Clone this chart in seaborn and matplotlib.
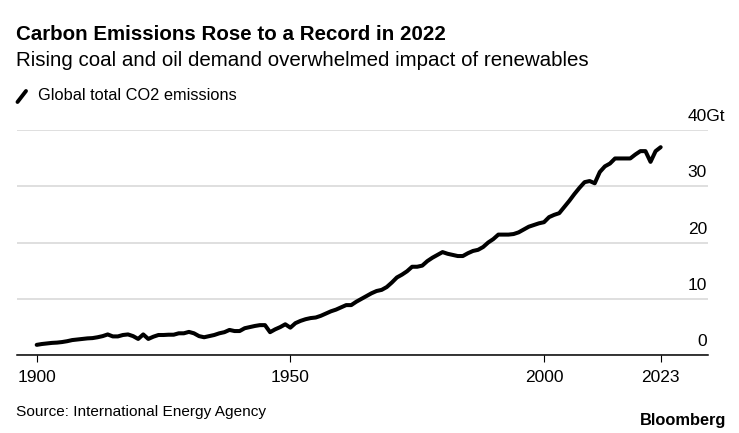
import numpy as np
import pandas as pd
import matplotlib
matplotlib.use("Agg")
import matplotlib.pyplot as plt
import matplotlib.transforms as mtransforms
from matplotlib.lines import Line2D
import seaborn as sns

# ---- data ----
years = list(range(1900, 2024))
emissions = [
    1.85, 2.0, 2.1, 2.2, 2.25, 2.35, 2.5, 2.7, 2.8, 2.9,      # 1900-1909
    3.0, 3.05, 3.2, 3.4, 3.7, 3.35, 3.35, 3.6, 3.7, 3.4,      # 1910-1919
    2.9, 3.7, 2.9, 3.3, 3.6, 3.6, 3.65, 3.65, 3.9, 3.9,       # 1920-1929
    4.15, 3.9, 3.4, 3.2, 3.4, 3.6, 3.9, 4.1, 4.5, 4.3,        # 1930-1939
    4.3, 4.8, 5.0, 5.2, 5.35, 5.35, 4.1, 4.6, 5.0, 5.5,       # 1940-1949
    4.9, 5.7, 6.1, 6.4, 6.6, 6.7, 7.0, 7.4, 7.8, 8.1,         # 1950-1959
    8.5, 8.9, 8.9, 9.5, 10.0, 10.5, 11.0, 11.4, 11.6, 12.1,   # 1960-1969
    12.9, 13.8, 14.3, 14.9, 15.7, 15.7, 15.9, 16.7, 17.3, 17.8,  # 1970-1979
    18.3, 18.0, 17.8, 17.6, 17.6, 18.1, 18.5, 18.7, 19.2, 20.0,  # 1980-1989
    20.6, 21.4, 21.4, 21.4, 21.5, 21.8, 22.3, 22.8, 23.1, 23.4,  # 1990-1999
    23.6, 24.5, 24.9, 25.2, 26.3, 27.4, 28.6, 29.7, 30.7, 30.9,  # 2000-2009
    30.5, 32.5, 33.5, 34.0, 34.9, 34.9, 34.9, 34.9, 35.6, 36.2,  # 2010-2019
    36.2, 34.3, 36.2, 36.9,                                      # 2020-2023
]
x_ticks = [1900, 1950, 2000, 2023]
x_tick_labels = ["1900", "1950", "2000", "2023"]
y_ticks = [0, 10, 20, 30, 40]
y_tick_labels = ["0", "10", "20", "30", "40"]
y_unit = "Gt"

title = "Carbon Emissions Rose to a Record in 2022"
subtitle = "Rising coal and oil demand overwhelmed impact of renewables"
legend_label = "Global total CO2 emissions"
source = "Source: International Energy Agency"
brand = "Bloomberg"

df = pd.DataFrame({"year": years, "emissions": emissions})

# ---- style ----
sns.set_theme(style="white")
plt.rcParams["font.family"] = ["Liberation Sans", "DejaVu Sans"]

W, H = 739, 433
fig = plt.figure(figsize=(W / 100, H / 100), dpi=100)
fig.patch.set_facecolor("white")

ax_left, ax_right = 17, 708
ax_top, ax_bottom = 129.7, 355.3
ax = fig.add_axes([ax_left / W, 1 - ax_bottom / H,
                   (ax_right - ax_left) / W, (ax_bottom - ax_top) / H])

sns.lineplot(data=df, x="year", y="emissions", color="black",
             linewidth=2.9, ax=ax, legend=False)
ax.lines[0].set_solid_joinstyle("round")
ax.lines[0].set_solid_capstyle("round")
ax.lines[0].set_clip_on(False)

# axis limits: 1900 sits at px 36.7, 5.073 px / year
ppy = 5.073
ax.set_xlim(1900 - (36.7 - ax_left) / ppy, 1900 + (ax_right - 36.7) / ppy)
ax.set_ylim(0, 40)

for s in ["top", "right", "left"]:
    ax.spines[s].set_visible(False)
ax.spines["bottom"].set_color("black")
ax.spines["bottom"].set_linewidth(1.1)
ax.spines["bottom"].set_zorder(5)

ax.set_yticks(y_ticks)
ax.set_yticklabels([])
ax.tick_params(axis="y", length=0)
ax.yaxis.grid(True, color="#dcdcdc", linewidth=1.3)
ax.xaxis.grid(False)
ax.set_axisbelow(True)

ax.set_xticks(x_ticks)
ax.set_xticklabels(x_tick_labels, fontsize=12.5, color="black")
ax.tick_params(axis="x", direction="out", length=5.2, width=0.8,
               color="black", pad=5.5, bottom=True)
ax.set_xlabel("")
ax.set_ylabel("")

# y labels above gridlines, right aligned; the top one carries the unit
ytr = mtransforms.offset_copy(ax.get_yaxis_transform(), fig=fig, x=-1, y=9, units="dots")
ytr_top = mtransforms.offset_copy(ax.get_yaxis_transform(), fig=fig, x=17, y=9, units="dots")
for v, lab in zip(y_ticks, y_tick_labels):
    if v == y_ticks[-1]:
        ax.text(1.0, v, lab + y_unit, transform=ytr_top, ha="right", va="baseline",
                fontsize=12.5, color="black", clip_on=False)
    else:
        ax.text(1.0, v, lab, transform=ytr, ha="right", va="baseline",
                fontsize=12.5, color="black", clip_on=False)

# ---- header ----
fig.text(16 / W, 1 - 35 / H, title, fontsize=14.8, fontweight="bold",
         ha="left", va="center", color="black")
fig.text(16 / W, 1 - 61 / H, subtitle, fontsize=14.8,
         ha="left", va="center", color="black")

# legend: slash icon + label
fig.add_artist(Line2D([17.5 / W, 26 / W], [1 - 102 / H, 1 - 91 / H],
                      color="black", linewidth=2.8, solid_capstyle="round"))
fig.text(38 / W, 1 - 96 / H, legend_label, fontsize=11.8,
         ha="left", va="center", color="black")

# ---- footer ----
fig.text(16 / W, 1 - 412 / H, source, fontsize=11.1,
         ha="left", va="center", color="black")
fig.text(726 / W, 1 - 420 / H, brand, fontsize=11.8, fontweight="bold",
         ha="right", va="center", color="black")

fig.savefig("out.png", dpi=100, facecolor="white")
